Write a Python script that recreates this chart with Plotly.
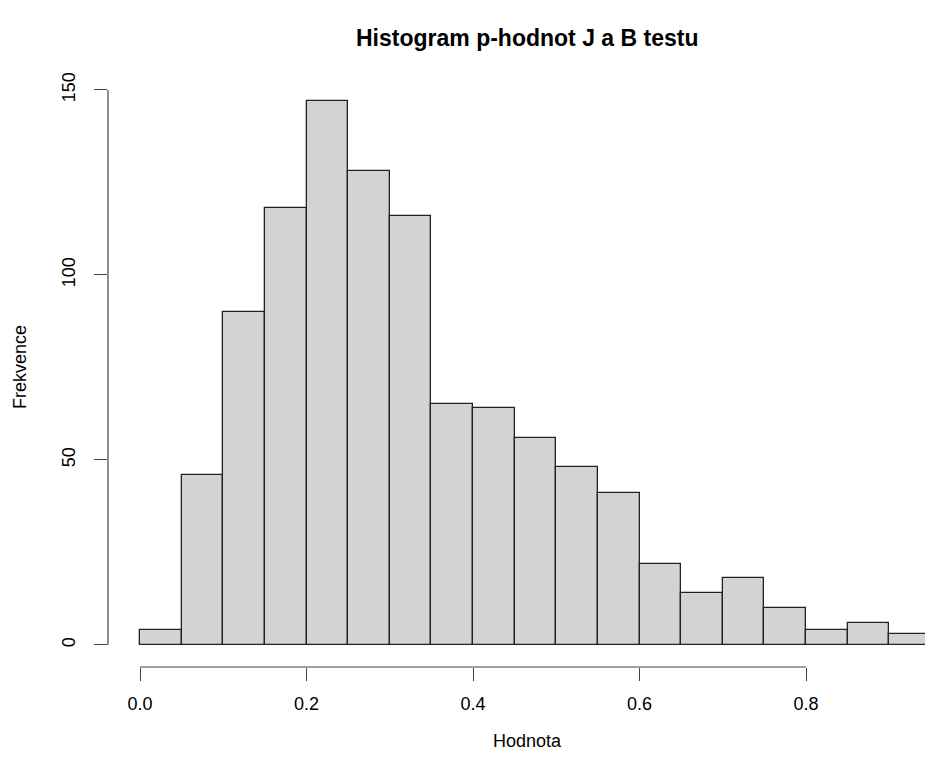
import plotly.graph_objects as go

# Data
breaks = [0.00, 0.05, 0.10, 0.15, 0.20, 0.25, 0.30, 0.35, 0.40, 0.45, 0.50,
          0.55, 0.60, 0.65, 0.70, 0.75, 0.80, 0.85, 0.90, 0.95]
counts = [4, 46, 90, 118, 147, 128, 116, 65, 64, 56, 48, 41, 22, 14, 18, 10, 4, 6, 3]
x_ticks = [0.0, 0.2, 0.4, 0.6, 0.8]
x_tick_labels = ["0.0", "0.2", "0.4", "0.6", "0.8"]
y_ticks = [0, 50, 100, 150]
y_tick_labels = ["0", "50", "100", "150"]

title = "Histogram p-hodnot J a B testu"
xlabel = "Hodnota"
ylabel = "Frekvence"

centers = [(breaks[i] + breaks[i + 1]) / 2 for i in range(len(counts))]
widths = [breaks[i + 1] - breaks[i] for i in range(len(counts))]

FONT = "Liberation Sans, Arial, Helvetica, sans-serif"

fig = go.Figure()
fig.add_trace(go.Bar(
    x=centers, y=counts, width=widths,
    marker=dict(color="#D3D3D3", line=dict(color="#222222", width=1.3)),
    showlegend=False, hoverinfo="x+y",
))

fig.update_layout(
    width=925, height=765,
    margin=dict(l=108, r=0, t=70, b=98),
    paper_bgcolor="white", plot_bgcolor="white",
    font=dict(family=FONT, size=18, color="black"),
    bargap=0,
    xaxis=dict(range=[-0.03844, 0.9429], tickvals=x_ticks, ticktext=x_tick_labels,
               ticks="outside", ticklen=13, tickcolor="#444", tickwidth=1.2,
               ticklabelstandoff=7,
               showgrid=False, zeroline=False, showline=False,
               tickfont=dict(size=18), fixedrange=True),
    yaxis=dict(range=[-5.95, 155.4], tickvals=y_ticks, ticktext=y_tick_labels,
               ticks="outside", ticklen=13, tickcolor="#444", tickwidth=1.2,
               ticklabelstandoff=12,
               tickangle=-90, showgrid=False, zeroline=False, showline=False,
               tickfont=dict(size=18), fixedrange=True),
    shapes=[
        dict(type="line", xref="paper", yref="y", x0=0, x1=0,
             y0=y_ticks[0], y1=y_ticks[-1], line=dict(color="#444", width=1.2)),
        dict(type="line", xref="x", yref="paper", x0=x_ticks[0], x1=x_ticks[-1],
             y0=0, y1=0, line=dict(color="#444", width=1.2)),
    ],
    annotations=[
        dict(text="<b>%s</b>" % title, xref="paper", yref="paper",
             x=0.5129, y=(765 - 38 - 98) / 597, xanchor="center", yanchor="middle",
             showarrow=False, font=dict(size=23)),
        dict(text=xlabel, xref="paper", yref="paper",
             x=0.5129, y=(765 - 741 - 98) / 597, xanchor="center", yanchor="middle",
             showarrow=False, font=dict(size=18)),
        dict(text=ylabel, xref="paper", yref="paper",
             x=(20 - 108) / 817, y=(765 - 367 - 98) / 597, xanchor="center", yanchor="middle",
             textangle=-90, showarrow=False, font=dict(size=18)),
    ],
)

fig.write_html("out.html", config={"displayModeBar": False},
               post_script="document.body.style.margin='0';")
